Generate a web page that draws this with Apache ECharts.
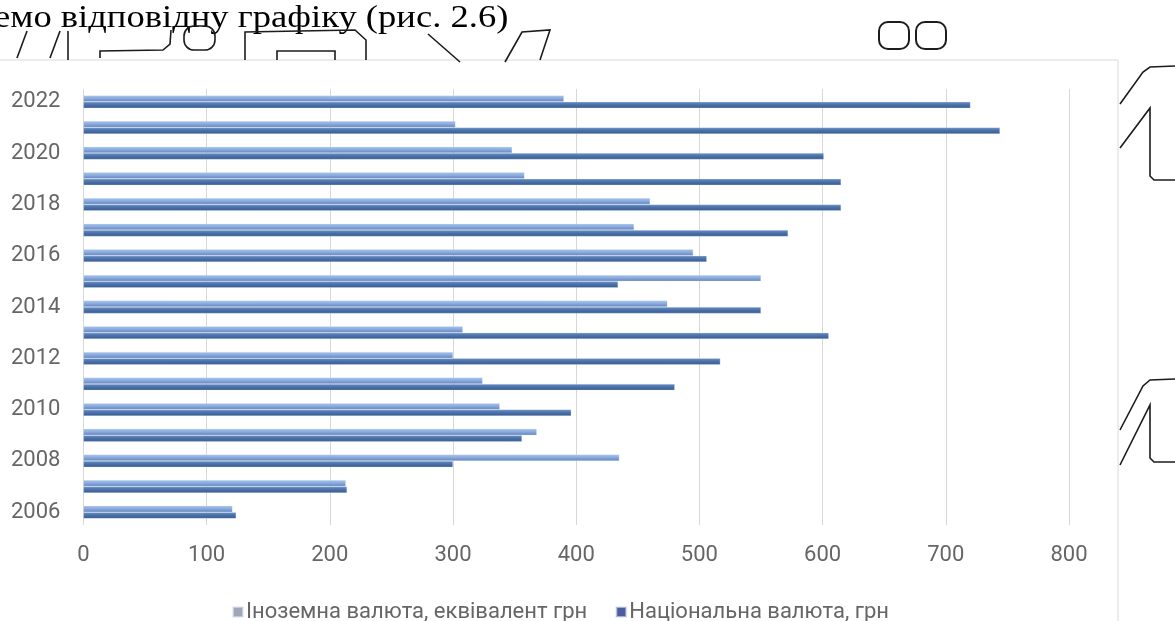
<!DOCTYPE html>
<html>
<head>
<meta charset="utf-8">
<script src="https://cdn.jsdelivr.net/npm/echarts@6/dist/echarts.min.js"></script>
<style>
  html, body { margin: 0; padding: 0; background: #fff; }
  #chart { width: 1175px; height: 621px; }
</style>
</head>
<body>
<div id="chart"></div>
<script>
// Years on the category axis (bottom to top)
const years = ['2006', '2007', '2008', '2009', '2010', '2011', '2012', '2013', '2014',
               '2015', '2016', '2017', '2018', '2019', '2020', '2021', '2022'];
// Foreign currency, UAH equivalent
const foreignCurrency = [121, 213, 435, 368, 338, 324, 300, 308, 474, 550, 495, 447, 460, 358, 348, 302, 390];
// National currency, UAH
const nationalCurrency = [124, 214, 300, 356, 396, 480, 517, 605, 550, 434, 506, 572, 615, 615, 601, 744, 720];
// Value axis ticks
const valueTicks = [0, 100, 200, 300, 400, 500, 600, 700, 800];
const seriesNames = ['Іноземна валюта, еквівалент грн', 'Національна валюта, грн'];
const captionText = 'емо відповідну графіку (рис. 2.6)';

const chart = echarts.init(document.getElementById('chart'), null, { renderer: 'canvas' });

const lightGradient = new echarts.graphic.LinearGradient(0, 0, 0, 1, [
  { offset: 0, color: '#a8c3ea' },
  { offset: 0.45, color: '#8aacdf' },
  { offset: 1, color: '#6482b9' }
]);
const darkGradient = new echarts.graphic.LinearGradient(0, 0, 0, 1, [
  { offset: 0, color: '#6a8fc3' },
  { offset: 0.5, color: '#4870a8' },
  { offset: 1, color: '#395b90' }
]);

const ink = { stroke: '#1c1c1c', lineWidth: 1.6, fill: null };
const labelFont = { color: '#666', fontFamily: 'Roboto', fontSize: 22 };

const option = {
  backgroundColor: '#ffffff',
  animation: false,
  grid: { left: 83.4, right: 106, top: 89, bottom: 96, containLabel: false },
  xAxis: {
    type: 'value',
    min: valueTicks[0],
    max: valueTicks[valueTicks.length - 1],
    interval: valueTicks[1] - valueTicks[0],
    axisLine: { show: false },
    axisTick: { show: false },
    axisLabel: Object.assign({ margin: 19 }, labelFont),
    splitLine: { show: true, lineStyle: { color: '#d8d8d8', width: 1 } }
  },
  yAxis: {
    type: 'category',
    data: years,
    axisLine: { show: false },
    axisTick: { show: false },
    axisLabel: Object.assign({ interval: 1, margin: 23 }, labelFont),
    splitLine: { show: false }
  },
  legend: {
    left: 227,
    top: 596,
    itemWidth: 10,
    itemHeight: 10,
    itemGap: 28,
    icon: 'rect',
    textStyle: Object.assign({ padding: [0, 0, 0, -2] }, labelFont),
    data: [
      { name: seriesNames[0], itemStyle: { color: '#a2a7b8' } },
      { name: seriesNames[1], itemStyle: { color: '#4d5ea0' } }
    ]
  },
  series: [
    {
      name: seriesNames[0],
      type: 'bar',
      data: foreignCurrency,
      barGap: '0%',
      barCategoryGap: '50%',
      itemStyle: { color: lightGradient, borderColor: 'rgba(220,230,245,0.6)', borderWidth: 0.5 }
    },
    {
      name: seriesNames[1],
      type: 'bar',
      data: nationalCurrency,
      barGap: '0%',
      barCategoryGap: '50%',
      itemStyle: { color: darkGradient, borderColor: 'rgba(220,230,245,0.6)', borderWidth: 0.5 }
    }
  ],
  graphic: [
    // chart area frame
    { type: 'rect', shape: { x: -2, y: 60, width: 1120, height: 620 },
      style: { stroke: '#dadada', lineWidth: 1, fill: null }, silent: true },
    // page text above the chart
    { type: 'text', x: -6, y: 3, scaleX: 1.18,
      style: { text: captionText, font: '31px "Liberation Serif"', fill: '#000' } },
    // pen strokes around the chart
    { type: 'polyline', shape: { points: [[17, 58], [27, 31]] }, style: ink },
    { type: 'polyline', shape: { points: [[50, 58], [60, 31]] }, style: ink },
    { type: 'polyline', shape: { points: [[68, 60], [68, 31]] }, style: ink },
    { type: 'polyline', shape: { points: [[100, 58], [100, 51], [163, 50], [170, 44], [171, 30]] }, style: ink },
    { type: 'rect', shape: { x: 184, y: 26, width: 31, height: 24, r: 10 }, style: ink },
    { type: 'polyline', shape: { points: [[245, 60], [245, 32], [355, 30], [366, 40], [366, 60]] }, style: ink },
    { type: 'polyline', shape: { points: [[277, 60], [277, 51], [335, 51], [335, 60]] }, style: ink },
    { type: 'polyline', shape: { points: [[428, 34], [460, 62]] }, style: ink },
    { type: 'polyline', shape: { points: [[505, 62], [522, 32], [550, 30], [540, 60]] }, style: ink },
    { type: 'rect', shape: { x: 879, y: 22, width: 30, height: 27, r: 9 }, style: { stroke: '#1c1c1c', lineWidth: 2, fill: null } },
    { type: 'rect', shape: { x: 916, y: 22, width: 30, height: 27, r: 9 }, style: { stroke: '#1c1c1c', lineWidth: 2, fill: null } },
    { type: 'polyline', shape: { points: [[1120, 104], [1143, 72], [1150, 67], [1175, 66]] }, style: ink },
    { type: 'polyline', shape: { points: [[1120, 148], [1150, 108], [1150, 176], [1154, 180], [1175, 180]] }, style: ink },
    { type: 'polyline', shape: { points: [[1120, 430], [1143, 386], [1150, 380], [1175, 379]] }, style: ink },
    { type: 'polyline', shape: { points: [[1120, 465], [1150, 405], [1150, 458], [1154, 462], [1175, 462]] }, style: ink }
  ]
};

chart.setOption(option);
</script>
</body>
</html>
